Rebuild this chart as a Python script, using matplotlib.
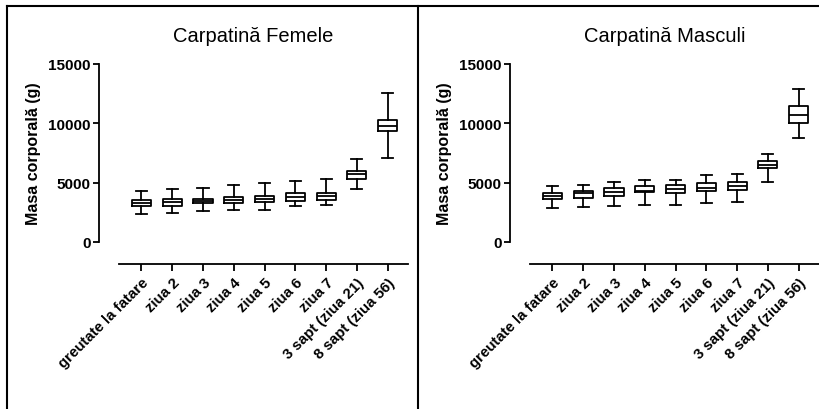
import matplotlib.pyplot as plt
from matplotlib.lines import Line2D

plt.rcParams['font.family'] = ['Liberation Sans', 'DejaVu Sans']

categories = ["greutate la fatare", "ziua 2", "ziua 3", "ziua 4", "ziua 5",
              "ziua 6", "ziua 7", "3 sapt (ziua 21)", "8 sapt (ziua 56)"]

# femele: min, q1, median, q3, max
fem_min = [2350, 2480, 2600, 2730, 2730, 3000, 3120, 4430, 7050]
fem_q1 = [3000, 3020, 3280, 3280, 3380, 3480, 3580, 5350, 9390]
fem_med = [3270, 3350, 3420, 3520, 3640, 3800, 3890, 5700, 9790]
fem_q3 = [3550, 3620, 3630, 3780, 3900, 4150, 4150, 6000, 10300]
fem_max = [4280, 4430, 4560, 4800, 4950, 5180, 5320, 7030, 12550]

# masculi
mas_min = [2850, 2980, 3000, 3120, 3150, 3260, 3380, 5090, 8750]
mas_q1 = [3640, 3730, 3900, 4200, 4150, 4270, 4410, 6240, 10060]
mas_med = [3900, 4150, 4230, 4330, 4470, 4580, 4740, 6520, 10700]
mas_q3 = [4160, 4330, 4580, 4750, 4800, 4970, 5080, 6800, 11460]
mas_max = [4700, 4800, 5080, 5230, 5230, 5620, 5700, 7440, 12920]

titles = ["Carpatină Femele", "Carpatină Masculi"]
ylabel = "Masa corporală (g)"
yticks = [0, 5000, 10000, 15000]


def make_stats(mins, q1s, meds, q3s, maxs):
    stats = []
    for a, b, c, d, e in zip(mins, q1s, meds, q3s, maxs):
        stats.append({'whislo': a, 'q1': b, 'med': c, 'q3': d, 'whishi': e, 'fliers': []})
    return stats


fig = plt.figure(figsize=(8.2, 4.1), dpi=100)

panels = [make_stats(fem_min, fem_q1, fem_med, fem_q3, fem_max),
          make_stats(mas_min, mas_q1, mas_med, mas_q3, mas_max)]
lefts = [99 / 820, 510 / 820]

lw = 1.3
for i, stats in enumerate(panels):
    ax = fig.add_axes([lefts[i], 167 / 410, 309 / 820, 178 / 410])
    ax.bxp(stats, positions=range(len(categories)), widths=0.62, capwidths=0.36,
           showfliers=False, patch_artist=False, manage_ticks=False,
           boxprops=dict(color='black', linewidth=lw),
           medianprops=dict(color='black', linewidth=lw),
           whiskerprops=dict(color='black', linewidth=lw),
           capprops=dict(color='black', linewidth=lw))
    ax.set_xlim(-1.38, 8.66)
    ax.set_ylim(0, 15000)
    ax.spines['top'].set_visible(False)
    ax.spines['right'].set_visible(False)
    ax.spines['bottom'].set_position(('outward', 15.8))
    ax.spines['bottom'].set_bounds(-0.73, 8.66)
    ax.spines['left'].set_linewidth(lw)
    ax.spines['bottom'].set_linewidth(lw)
    ax.tick_params(axis='y', length=4, width=lw, pad=2)
    ax.tick_params(axis='x', length=5, width=lw, pad=3)
    ax.set_yticks(yticks)
    ax.set_yticklabels([str(v) for v in yticks], fontsize=11, fontweight='bold')
    ax.set_xticks(range(len(categories)))
    ax.set_xticklabels(categories, fontsize=10.8, fontweight='bold', rotation=45,
                       ha='right', rotation_mode='anchor')
    ax.set_ylabel(ylabel, fontsize=11.5, fontweight='bold')
    ax.yaxis.set_label_coords(-58 / 309, 0.5)
    ax.set_title(titles[i], fontsize=14.5, y=1.115, va='center')

# frame lines
fig.add_artist(Line2D([7 / 820, 1], [1 - 7 / 410, 1 - 7 / 410], color='black', lw=1.5,
                      transform=fig.transFigure))
fig.add_artist(Line2D([7 / 820, 7 / 820], [0, 1 - 7 / 410], color='black', lw=1.5,
                      transform=fig.transFigure))
fig.add_artist(Line2D([418 / 820, 418 / 820], [0, 1 - 7 / 410], color='black', lw=1.5,
                      transform=fig.transFigure))

fig.savefig("out.png", dpi=100)
